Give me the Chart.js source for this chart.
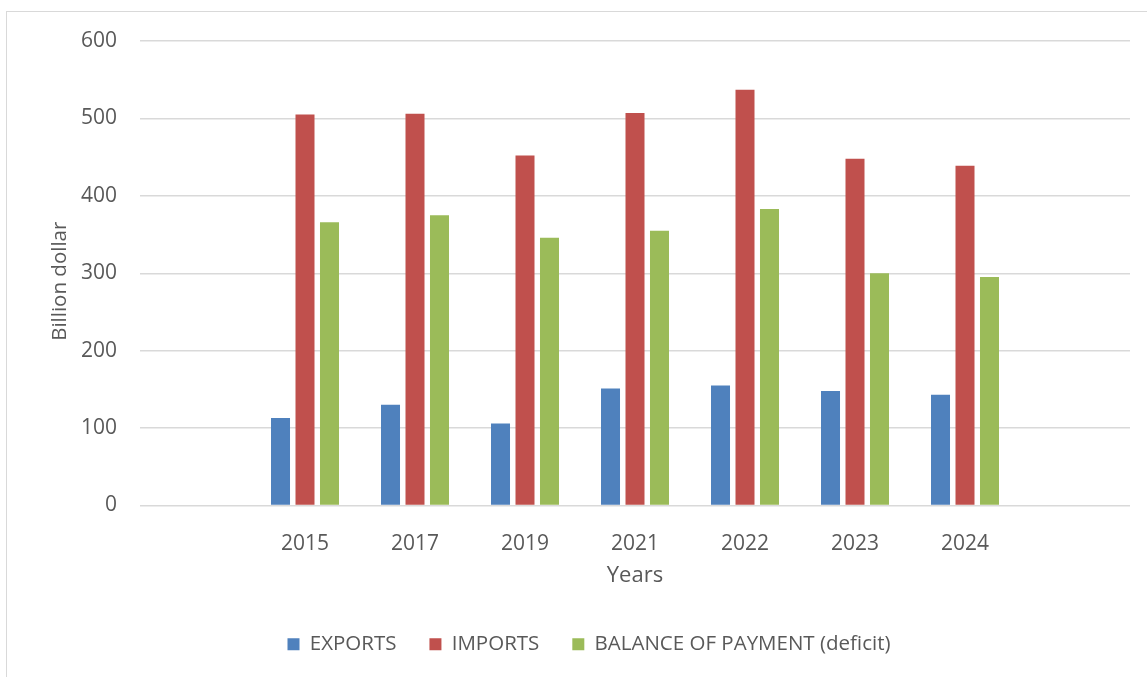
<!DOCTYPE html>
<html>
<head>
<meta charset="utf-8">
<script src="https://cdn.jsdelivr.net/npm/chart.js@4/dist/chart.umd.min.js"></script>
<style>
    html, body { margin: 0; padding: 0; background: #fff; overflow: hidden; }
    #wrap { position: relative; width: 1147px; height: 677px; }
    #frame {
        position: absolute; left: 6px; top: 11px; width: 2000px; height: 2000px;
        border: 1.5px solid #d9d9d9; box-sizing: border-box;
    }
    #chart-box { position: absolute; left: 0; top: 0; width: 1147px; height: 677px; }
</style>
</head>
<body>
<div id="wrap">
    <div id="frame"></div>
    <div id="chart-box"><canvas id="trade-chart"></canvas></div>
</div>
<script>
// empty categories at both ends keep the spacing seen in the original
const years = ['', '2015', '2017', '2019', '2021', '2022', '2023', '2024', ''];
const exportsValues = [null, 113, 130, 106, 151, 155, 148, 143, null];
const importsValues = [null, 505, 506, 452, 507, 537, 448, 439, null];
const deficitValues = [null, 366, 375, 346, 355, 383, 300, 295, null];
const seriesNames = ['EXPORTS', 'IMPORTS', 'BALANCE OF PAYMENT (deficit)'];
const yTicks = [0, 100, 200, 300, 400, 500, 600];

document.addEventListener("DOMContentLoaded", function () {
    const ctx = document.getElementById("trade-chart").getContext("2d");
    const textColor = '#595959';
    const gridColor = '#d9d9d9';
    const fontFamily = "'Open Sans', 'Liberation Sans', sans-serif";

    function barSet(label, values, color) {
        return {
            label,
            data: values,
            backgroundColor: color,
            borderWidth: 0,
            categoryPercentage: 0.668,
            barPercentage: 0.776
        };
    }

    new Chart(ctx, {
        type: 'bar',
        data: {
            labels: years,
            datasets: [
                barSet(seriesNames[0], exportsValues, '#4F81BD'),
                barSet(seriesNames[1], importsValues, '#C0504D'),
                barSet(seriesNames[2], deficitValues, '#9BBB59')
            ]
        },
        options: {
            responsive: true,
            maintainAspectRatio: false,
            animation: false,
            layout: {
                padding: { left: 48, right: 17, top: 41, bottom: 12.5 }
            },
            plugins: {
                tooltip: { enabled: false },
                legend: {
                    position: 'bottom',
                    labels: {
                        color: textColor,
                        font: { family: fontFamily, size: 20.5 },
                        boxWidth: 12,
                        boxHeight: 12,
                        padding: 33
                    }
                }
            },
            scales: {
                x: {
                    grid: { display: false },
                    border: { display: false },
                    ticks: {
                        color: textColor,
                        font: { family: fontFamily, size: 21 },
                        padding: 18,
                        maxRotation: 0,
                        autoSkip: false
                    },
                    title: {
                        display: true,
                        text: 'Years',
                        color: textColor,
                        font: { family: fontFamily, size: 22 },
                        padding: { top: 0, bottom: 12 }
                    },
                    afterFit: function (scale) { scale.height = 95.5; }
                },
                y: {
                    min: yTicks[0],
                    max: yTicks[yTicks.length - 1],
                    afterBuildTicks: function (scale) {
                        scale.ticks = yTicks.map(v => ({ value: v }));
                    },
                    grid: { color: gridColor, lineWidth: 1.5, drawTicks: false },
                    border: { display: false },
                    ticks: {
                        color: textColor,
                        font: { family: fontFamily, size: 21 },
                        padding: 23
                    },
                    title: {
                        display: true,
                        // trailing spaces nudge the rotated title down like the original
                        text: 'Billion dollar   ',
                        color: textColor,
                        font: { family: fontFamily, size: 20.5 },
                        padding: { top: 0, bottom: 0 }
                    },
                    afterFit: function (scale) { scale.width = 92; }
                }
            }
        }
    });
});
</script>
</body>
</html>
